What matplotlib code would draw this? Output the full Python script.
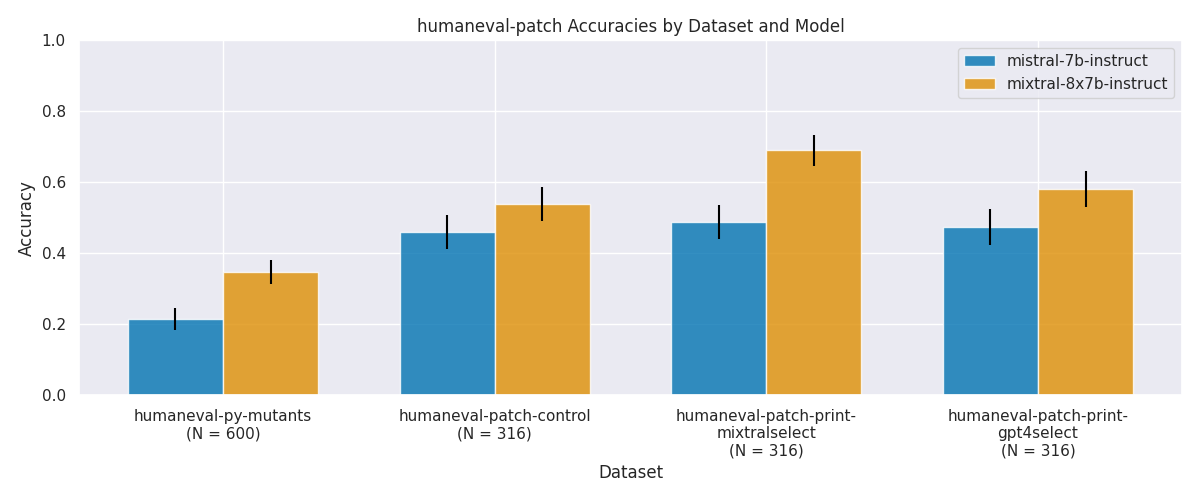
import matplotlib
matplotlib.use("Agg")
import matplotlib.pyplot as plt
import numpy as np
import seaborn as sns

datasets = [
    "humaneval-py-mutants\n(N = 600)",
    "humaneval-patch-control\n(N = 316)",
    "humaneval-patch-print-\nmixtralselect\n(N = 316)",
    "humaneval-patch-print-\ngpt4select\n(N = 316)",
]
models = ["mistral-7b-instruct", "mixtral-8x7b-instruct"]
mistral_acc = [0.215, 0.460, 0.488, 0.475]
mistral_err = [0.032, 0.047, 0.048, 0.050]
mixtral_acc = [0.347, 0.538, 0.690, 0.582]
mixtral_err = [0.034, 0.048, 0.044, 0.050]

sns.set_theme()
colors = sns.color_palette("colorblind")

fig, ax = plt.subplots(figsize=(12, 5), dpi=100)
x = np.arange(len(datasets))
w = 0.35
ax.bar(x - w / 2, mistral_acc, w, yerr=mistral_err, color=colors[0], alpha=0.8,
       edgecolor="white", label=models[0], error_kw=dict(ecolor="black", lw=1.5))
ax.bar(x + w / 2, mixtral_acc, w, yerr=mixtral_err, color=colors[1], alpha=0.8,
       edgecolor="white", label=models[1], error_kw=dict(ecolor="black", lw=1.5))

ax.set_xticks(x)
ax.set_xticklabels(datasets)
ax.set_xlim(-0.53, 3.53)
ax.set_ylim(0, 1)
ax.set_xlabel("Dataset")
ax.set_ylabel("Accuracy")
ax.set_title("humaneval-patch Accuracies by Dataset and Model")
ax.legend(loc="upper right")

plt.tight_layout()
plt.savefig("out.png", dpi=100)
